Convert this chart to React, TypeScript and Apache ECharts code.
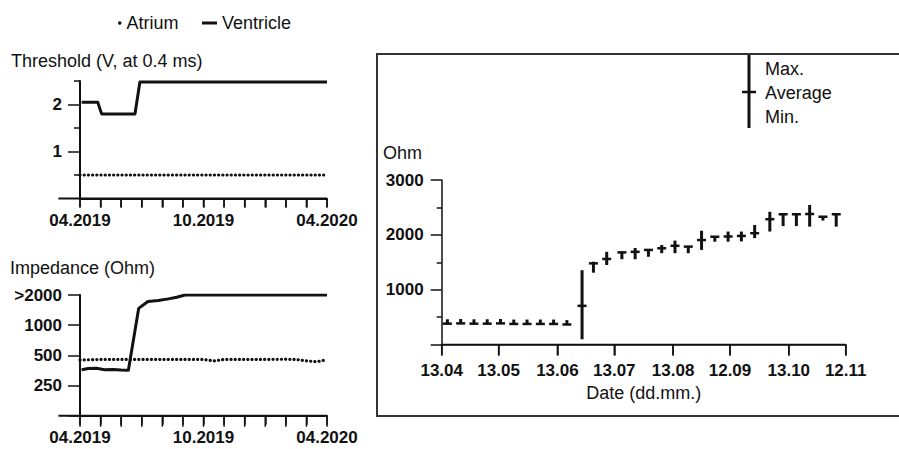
import React, { useEffect, useRef } from 'react';
import * as echarts from 'echarts';

// ---------- data ----------
// left charts: months since 04.2019
const monthTicks = [0, 1, 2, 3, 4, 5, 6, 7, 8, 9, 10, 11, 12];
const monthLabelValues = [0, 6, 12];
const monthLabels = ['04.2019', '10.2019', '04.2020'];

const thrVentMonths = [0.08, 0.86, 1.05, 2.67, 2.91, 12];
const thrVentValues = [2.05, 2.05, 1.8, 1.8, 2.48, 2.48];
const thrAtrMonths = [0, 12];
const thrAtrValues = [0.5, 0.5];

const impVentMonths = [0.08, 0.4, 0.8, 1.2, 1.6, 2.0, 2.35, 2.85, 3.3, 3.8, 4.3, 4.7, 5.1, 12];
const impVentValues = [360, 370, 372, 360, 362, 358, 356, 1470, 1720, 1760, 1830, 1900, 2000, 2000];
const impAtrMonths = [0, 1, 2, 3, 4, 5, 6, 6.5, 7, 8, 9, 10, 10.5, 11, 11.5, 12];
const impAtrValues = [450, 455, 455, 455, 455, 455, 455, 440, 455, 455, 455, 458, 455, 440, 432, 452];
const impBase = 125; // bottom of the log2 scale
const impTickLabels = ['', '250', '500', '1000', '>2000'];

// right chart: days since 13.04
const dayCount = 214;
const dayTicks = [0, 30, 61, 91, 122, 152, 183, 213];
const dayLabels = ['13.04', '13.05', '13.06', '13.07', '13.08', '12.09', '13.10', '12.11'];
const measDays = [3, 10, 17, 24, 31, 38, 45, 52, 59, 66, 74, 80, 87, 95, 102, 109, 116, 123, 130, 137, 144, 151, 158, 165, 173, 180, 187, 194, 201, 208];
const measAvg = [380, 385, 380, 380, 385, 375, 375, 375, 375, 365, 705, 1480, 1560, 1680, 1690, 1725, 1755, 1800, 1785, 1905, 1965, 1970, 1980, 2030, 2285, 2375, 2375, 2380, 2330, 2375];
const measMax = [460, 465, 460, 460, 465, 455, 455, 455, 455, 445, 1355, 1510, 1690, 1690, 1760, 1730, 1815, 1895, 1790, 2075, 1970, 2060, 2060, 2180, 2420, 2380, 2380, 2545, 2340, 2380];
const measMin = [370, 375, 370, 370, 375, 365, 365, 365, 365, 355, 95, 1310, 1450, 1555, 1555, 1600, 1665, 1665, 1665, 1725, 1875, 1875, 1880, 1940, 2060, 2160, 2160, 2150, 2260, 2150];

// ---------- styling ----------
const FONT = '"Liberation Sans", Arial, Helvetica, sans-serif';
const INK = '#111';
const LEFT_AXIS_START = -1.05; // the x baseline of the left panels starts left of the y axis

const tickLabelStyle = { fontSize: 17, fontWeight: 'bold', color: INK, fontFamily: FONT };

function leftXAxis(gridIndex: number) {
  return {
    type: 'value',
    gridIndex,
    min: 0,
    max: 12,
    interval: 1,
    axisLine: { show: true, lineStyle: { color: INK, width: 2 } },
    axisTick: { show: true, length: 9, lineStyle: { color: INK, width: 1.5 } },
    axisLabel: {
      formatter: (v: number) => {
        const i = monthLabelValues.indexOf(Math.round(v));
        return i >= 0 ? monthLabels[i] : '';
      },
      ...tickLabelStyle,
      margin: 13,
    },
    splitLine: { show: false },
  };
}

// x baseline drawn through the axes' scales: data item = [start, end]
function baselineSeries(xAxisIndex: number, yAxisIndex: number, start: number, end: number, width: number) {
  return {
    type: 'custom', xAxisIndex, yAxisIndex, silent: true, clip: false, z: 3,
    data: [[start, end]],
    renderItem: (_p: any, api: any) => {
      const a = api.coord([api.value(0), 0]);
      const b = api.coord([api.value(1), 0]);
      return { type: 'line', shape: { x1: a[0], y1: a[1], x2: b[0], y2: b[1] }, style: { stroke: INK, lineWidth: width } };
    },
  };
}
// x ticks drawn through the axes' scales: one data item per tick value
function tickSeries(xAxisIndex: number, yAxisIndex: number, values: number[], length: number) {
  return {
    type: 'custom', xAxisIndex, yAxisIndex, silent: true, clip: false, z: 3,
    data: values.map((v) => [v, 0]),
    renderItem: (_p: any, api: any) => {
      const c = api.coord([api.value(0), 0]);
      return { type: 'line', shape: { x1: c[0], y1: c[1], x2: c[0], y2: c[1] + length }, style: { stroke: INK, lineWidth: 1.5 } };
    },
  };
}

export default function App() {
  const ref = useRef<HTMLDivElement>(null);

  useEffect(() => {
    if (!ref.current) return;
    const chart = echarts.init(ref.current, undefined, { renderer: 'svg' });

    const dotted = { type: [0.1, 4.1], width: 3.2, cap: 'round', color: INK };
    const solid = { width: 3, color: INK, join: 'round' };
    const dayCategories = Array.from({ length: dayCount }, (_, i) => String(i));

    const option: any = {
      animation: false,
      title: [
        { text: 'Threshold (V, at 0.4 ms)', left: 11, top: 52, padding: 0, textStyle: { fontSize: 18, fontWeight: 'normal', color: INK, fontFamily: FONT } },
        { text: 'Impedance (Ohm)', left: 10, top: 259, padding: 0, textStyle: { fontSize: 18, fontWeight: 'normal', color: INK, fontFamily: FONT } },
        { text: 'Ohm', left: 383, top: 144, padding: 0, textStyle: { fontSize: 18, fontWeight: 'normal', color: INK, fontFamily: FONT } },
      ],
      legend: [
        {
          data: [{ name: 'Atrium', icon: 'circle' }],
          left: 118, top: 14, padding: 0, itemWidth: 3.5, itemHeight: 3.5,
          textStyle: { fontSize: 18, color: INK, fontFamily: FONT },
          selectedMode: false,
        },
        {
          data: [{ name: 'Ventricle', icon: 'rect' }],
          left: 202, top: 14, padding: 0, itemWidth: 15, itemHeight: 3,
          textStyle: { fontSize: 18, color: INK, fontFamily: FONT },
          selectedMode: false,
        },
      ],
      grid: [
        { left: 80, width: 247, top: 81, height: 117.5 },
        { left: 80, width: 247, top: 295, height: 120.7 },
        { left: 441.7, width: 404, top: 180, height: 164.5 },
      ],
      xAxis: [
        leftXAxis(0),
        leftXAxis(1),
        {
          type: 'category', gridIndex: 2, data: dayCategories, boundaryGap: false,
          axisLine: { show: true, lineStyle: { color: INK, width: 1.5 } },
          axisTick: { show: true, interval: (i: number) => dayTicks.includes(i), length: 11, lineStyle: { color: INK, width: 1.5 } },
          axisLabel: {
            interval: (i: number) => dayTicks.includes(i),
            formatter: (_v: string, i: number) => {
              const k = dayTicks.indexOf(i);
              return k >= 0 ? dayLabels[k] : '';
            },
            ...tickLabelStyle, margin: 17,
          },
          splitLine: { show: false },
          name: 'Date (dd.mm.)', nameLocation: 'middle', nameGap: 39,
          nameTextStyle: { fontSize: 18, color: INK, fontFamily: FONT },
        },
      ],
      yAxis: [
        {
          type: 'value', gridIndex: 0, min: 0, max: 2.5, interval: 0.5,
          axisLine: { show: true, lineStyle: { color: INK, width: 2 } },
          axisTick: { show: true, customValues: [1, 2], length: 12, lineStyle: { color: INK, width: 1.5 } },
          axisLabel: { customValues: [1, 2], formatter: (v: number) => (v === 1 || v === 2 ? String(v) : ''), ...tickLabelStyle, margin: 18 },
          splitLine: { show: false },
        },
        {
          type: 'value', gridIndex: 0, position: 'left', min: 0, max: 2.5, interval: 0.5,
          axisLine: { show: false },
          axisTick: { show: true, customValues: [0.5, 1.5, 2.5], length: 6, lineStyle: { color: INK, width: 1.5 } },
          axisLabel: { show: false },
          splitLine: { show: false },
        },
        {
          type: 'value', gridIndex: 1, min: 0, max: 4, interval: 1,
          axisLine: { show: true, lineStyle: { color: INK, width: 2 } },
          axisTick: { show: true, length: 12, lineStyle: { color: INK, width: 1.5 } },
          axisLabel: { formatter: (v: number) => impTickLabels[Math.round(v)] ?? '', ...tickLabelStyle, margin: 18 },
          splitLine: { show: false },
        },
        {
          type: 'value', gridIndex: 2, min: 0, max: 3000, interval: 1000,
          axisLine: { show: true, lineStyle: { color: INK, width: 1.5 } },
          axisTick: { show: true, length: 11, lineStyle: { color: INK, width: 1.5 } },
          minorTick: { show: true, splitNumber: 2, length: 5, lineStyle: { color: INK, width: 1.5 } },
          axisLabel: { formatter: (v: number) => (v === 0 ? '' : String(v)), ...tickLabelStyle, margin: 18 },
          splitLine: { show: false },
        },
      ],
      graphic: [
        { type: 'rect', silent: true, shape: { x: 377, y: 54, width: 560, height: 362 }, style: { fill: 'none', stroke: '#333', lineWidth: 2 } },
        { type: 'line', silent: true, shape: { x1: 749, y1: 55, x2: 749, y2: 128 }, style: { stroke: INK, lineWidth: 3 } },
        { type: 'line', silent: true, shape: { x1: 742, y1: 92, x2: 756, y2: 92 }, style: { stroke: INK, lineWidth: 2.5 } },
        { type: 'text', silent: true, x: 765, y: 69, style: { text: 'Max.', fontSize: 18, fontFamily: FONT, fill: INK, verticalAlign: 'middle', textVerticalAlign: 'middle' } },
        { type: 'text', silent: true, x: 765, y: 92.5, style: { text: 'Average', fontSize: 18, fontFamily: FONT, fill: INK, verticalAlign: 'middle', textVerticalAlign: 'middle' } },
        { type: 'text', silent: true, x: 765, y: 117, style: { text: 'Min.', fontSize: 18, fontFamily: FONT, fill: INK, verticalAlign: 'middle', textVerticalAlign: 'middle' } },
      ],
      series: [
        {
          name: 'Atrium', type: 'line', xAxisIndex: 0, yAxisIndex: 0, symbol: 'none',
          color: INK, itemStyle: { color: INK }, lineStyle: dotted,
          data: thrAtrMonths.map((m, i) => [m, thrAtrValues[i]]),
        },
        {
          name: 'Ventricle', type: 'line', xAxisIndex: 0, yAxisIndex: 0, symbol: 'none',
          color: INK, itemStyle: { color: INK }, lineStyle: solid,
          data: thrVentMonths.map((m, i) => [m, thrVentValues[i]]),
        },
        {
          name: 'Atrium', type: 'line', xAxisIndex: 1, yAxisIndex: 2, symbol: 'none',
          color: INK, itemStyle: { color: INK }, lineStyle: dotted,
          data: impAtrMonths.map((m, i) => [m, Math.log2(impAtrValues[i] / impBase)]),
        },
        {
          name: 'Ventricle', type: 'line', xAxisIndex: 1, yAxisIndex: 2, symbol: 'none',
          color: INK, itemStyle: { color: INK }, lineStyle: solid,
          data: impVentMonths.map((m, i) => [m, Math.log2(impVentValues[i] / impBase)]),
        },
        {
          name: 'Impedance', type: 'custom', xAxisIndex: 2, yAxisIndex: 3,
          encode: { x: 0, y: [1, 2, 3] },
          data: measDays.map((d, i) => [d, measMin[i], measAvg[i], measMax[i]]),
          renderItem: (_params: any, api: any) => {
            const x = api.value(0);
            const lo = api.coord([x, api.value(1)]);
            const av = api.coord([x, api.value(2)]);
            const hi = api.coord([x, api.value(3)]);
            return {
              type: 'group',
              children: [
                { type: 'line', shape: { x1: lo[0], y1: lo[1], x2: hi[0], y2: hi[1] }, style: { stroke: INK, lineWidth: 3 } },
                { type: 'line', shape: { x1: av[0] - 4.5, y1: av[1], x2: av[0] + 4.5, y2: av[1] }, style: { stroke: INK, lineWidth: 2.5 } },
              ],
            };
          },
        },
        // x-axis baselines and ticks, placed through the axes' scales
        baselineSeries(0, 0, LEFT_AXIS_START, 12, 2),
        tickSeries(0, 0, monthTicks, 9),
        baselineSeries(1, 2, LEFT_AXIS_START, 12, 2),
        tickSeries(1, 2, monthTicks, 11),
        baselineSeries(2, 3, dayTicks[0], dayTicks[dayTicks.length - 1], 1.5),
        tickSeries(2, 3, dayTicks, 11),
      ],
    };

    chart.setOption(option);
    return () => chart.dispose();
  }, []);

  return (
    <div
      ref={ref}
      style={{ position: 'absolute', left: 0, top: 0, width: 899, height: 449, background: '#fff' }}
    />
  );
}
